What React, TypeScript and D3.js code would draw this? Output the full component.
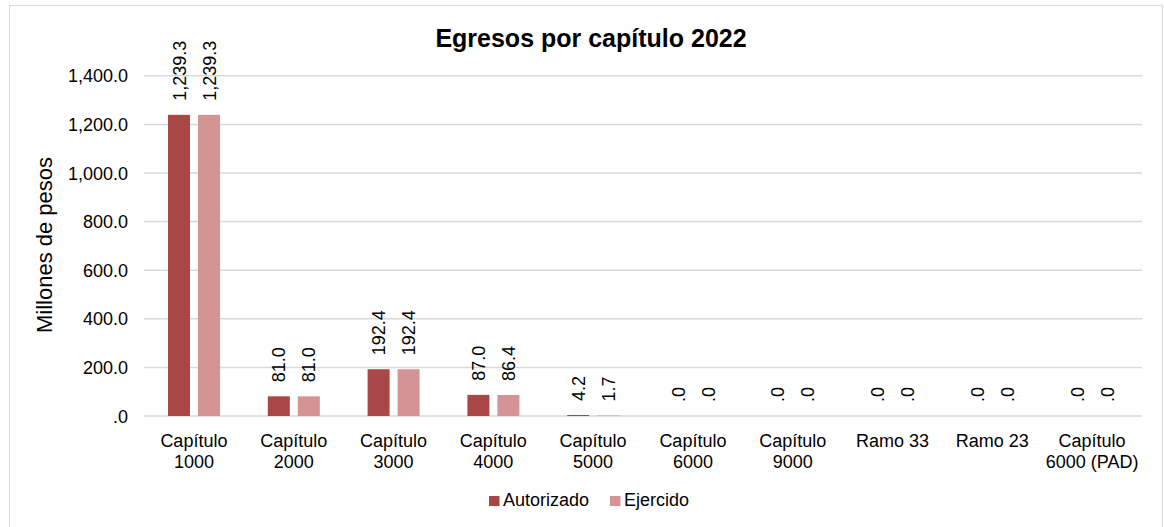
import { useEffect, useRef } from "react";
import * as d3 from "d3";

const categories = [
  ["Capítulo", "1000"],
  ["Capítulo", "2000"],
  ["Capítulo", "3000"],
  ["Capítulo", "4000"],
  ["Capítulo", "5000"],
  ["Capítulo", "6000"],
  ["Capítulo", "9000"],
  ["Ramo 33"],
  ["Ramo 23"],
  ["Capítulo", "6000 (PAD)"],
];
const autorizado = [1239.3, 81.0, 192.4, 87.0, 4.2, 0, 0, 0, 0, 0];
const ejercido = [1239.3, 81.0, 192.4, 86.4, 1.7, 0, 0, 0, 0, 0];
const yTicks = [0, 200, 400, 600, 800, 1000, 1200, 1400];
const seriesNames = ["Autorizado", "Ejercido"];
const seriesColors = ["#A94646", "#D49394"];

// Excel style: 0.0 is shown as ".0"
const fmt = (v: number) => {
  const s = d3.format(",.1f")(v);
  return s.startsWith("0.") ? s.slice(1) : s;
};

export default function App() {
  const svgRef = useRef<SVGSVGElement>(null);

  useEffect(() => {
    if (!svgRef.current) return;
    const svg = d3.select(svgRef.current);
    svg.selectAll("*").remove();
    const font = "'Liberation Sans', Arial, sans-serif";

    const left = 144, right = 1142, top = 75.8, bottom = 416;

    // chart frame
    svg.append("rect")
      .attr("x", 9.5).attr("y", 5.5).attr("width", 1153).attr("height", 540)
      .attr("fill", "#fff").attr("stroke", "#d9d9d9");

    const x = d3.scaleBand<number>()
      .domain(d3.range(categories.length))
      .range([left, right]);
    const y = d3.scaleLinear().domain([0, 1400]).range([bottom, top]);

    const g = svg.append("g").style("font-family", font);

    // gridlines
    g.selectAll(".grid")
      .data(yTicks)
      .enter()
      .append("line")
      .attr("x1", left).attr("x2", right)
      .attr("y1", (d) => y(d))
      .attr("y2", (d) => y(d))
      .attr("stroke", "#d9d9d9")
      .attr("stroke-width", 1.5);

    // y tick labels
    g.selectAll(".ytick")
      .data(yTicks)
      .enter()
      .append("text")
      .attr("x", 128)
      .attr("y", (d) => y(d) + 6.5)
      .attr("text-anchor", "end")
      .style("font-size", "18px")
      .style("fill", "#000")
      .text((d) => fmt(d));

    // bars + rotated value labels
    const barW = 22;
    const offsets = [24, 54];
    [autorizado, ejercido].forEach((vals, si) => {
      g.selectAll(`.bar${si}`)
        .data(vals)
        .enter()
        .append("rect")
        .attr("x", (_, i) => x(i)! + offsets[si])
        .attr("y", (d) => y(d))
        .attr("width", barW)
        .attr("height", (d) => bottom - y(d))
        .attr("fill", seriesColors[si]);

      g.selectAll(`.lbl${si}`)
        .data(vals)
        .enter()
        .append("text")
        .attr("transform", (d, i) => {
          const cx = x(i)! + offsets[si] + barW / 2 + 6.5;
          return `translate(${cx},${y(d) - 14}) rotate(-90)`;
        })
        .attr("text-anchor", "start")
        .style("font-size", "18px")
        .style("fill", "#000")
        .text((d) => fmt(d));
    });

    // x category labels
    categories.forEach((lines, i) => {
      const cx = x(i)! + x.bandwidth() / 2;
      const t = g.append("text")
        .attr("x", cx)
        .attr("y", 446.5)
        .attr("text-anchor", "middle")
        .style("font-size", "18px")
        .style("fill", "#000");
      lines.forEach((ln, j) => {
        t.append("tspan")
          .attr("x", cx)
          .attr("dy", j === 0 ? 0 : 21)
          .text(ln);
      });
    });

    // y axis title
    g.append("text")
      .attr("transform", `translate(52,245) rotate(-90)`)
      .attr("text-anchor", "middle")
      .style("font-size", "22px")
      .style("fill", "#000")
      .text("Millones de pesos");

    // title
    g.append("text")
      .attr("x", 591)
      .attr("y", 46.5)
      .attr("text-anchor", "middle")
      .style("font-size", "25px")
      .style("font-weight", "bold")
      .style("fill", "#000")
      .text("Egresos por capítulo 2022");

    // legend
    const legendX = [489, 610];
    seriesNames.forEach((name, i) => {
      g.append("rect")
        .attr("x", legendX[i]).attr("y", 496)
        .attr("width", 10.5).attr("height", 10)
        .attr("fill", seriesColors[i]);
      g.append("text")
        .attr("x", legendX[i] + 14)
        .attr("y", 506)
        .style("font-size", "18px")
        .style("fill", "#000")
        .text(name);
    });
  }, []);

  return (
    <svg
      ref={svgRef}
      width={1164}
      height={527}
      style={{ position: "absolute", left: 0, top: 0, background: "#fff" }}
    />
  );
}
